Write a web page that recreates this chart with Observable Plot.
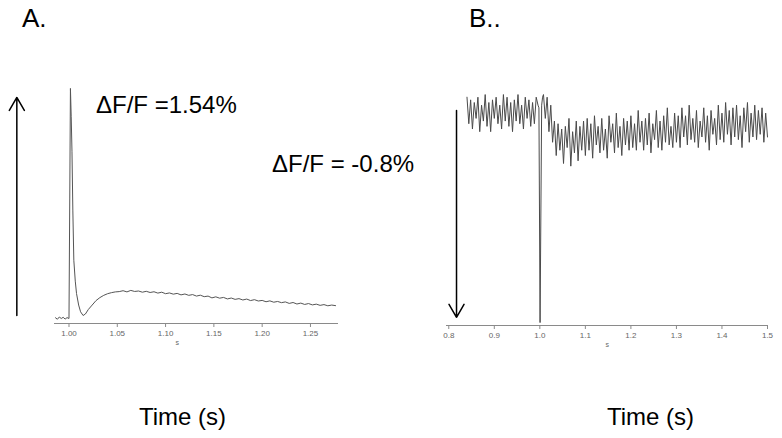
<!DOCTYPE html>
<html><head><meta charset="utf-8">
<script src="https://cdn.jsdelivr.net/npm/d3@7"></script>
<script src="https://cdn.jsdelivr.net/npm/@observablehq/plot@0.6"></script>
<style>
body{margin:0;background:#fff;}
#page{position:relative;width:782px;height:438px;overflow:hidden;font-family:"Liberation Sans",Arial,sans-serif;color:#000;background:#fff;}
.t{position:absolute;white-space:nowrap;line-height:1;}
.panel{position:absolute;top:0;}
</style></head><body>
<div id="page">
  <div class="t" style="left:22px;top:5px;font-size:26px;">A.</div>
  <div class="t" style="left:469px;top:5px;font-size:26px;">B..</div>
  <div class="t" style="left:96px;top:93px;font-size:24px;">ΔF/F =1.54%</div>
  <div class="t" style="left:272px;top:152px;font-size:24px;">ΔF/F = -0.8%</div>
  <div class="t" style="left:139px;top:405px;font-size:24px;">Time (s)</div>
  <div class="t" style="left:607px;top:405px;font-size:24px;">Time (s)</div>
  <div id="pa" class="panel" style="left:0px;"></div>
  <div id="pb" class="panel" style="left:420px;"></div>
</div>
<script>
// ---------- Panel A data (ΔF/F, %) ----------
const aTicks = [1.00, 1.05, 1.10, 1.15, 1.20, 1.25];
const aPreStart = 0.986, aPreStep = 0.002;
const aPreValues = [0.005, -0.005, 0.01, 0.0, 0.008, -0.004, 0.006];
const aRiseTimes = [1.000, 1.0008, 1.0015, 1.0023, 1.0031, 1.004, 1.005, 1.0065, 1.0078, 1.010, 1.012, 1.0146, 1.017, 1.020, 1.024, 1.028, 1.032, 1.036, 1.040, 1.044, 1.048];
const aRiseValues = [0.0, 0.8, 1.54, 1.35, 1.12, 0.72, 0.39, 0.25, 0.167, 0.09, 0.045, 0.02, 0.03, 0.06, 0.09, 0.12, 0.14, 0.155, 0.166, 0.173, 0.178];
const aTailStart = 1.052, aTailStep = 0.004;
const aTailValues = [0.180, 0.186, 0.178, 0.188, 0.181, 0.184, 0.176, 0.182, 0.174, 0.179, 0.170, 0.176, 0.166, 0.171, 0.163, 0.168, 0.158, 0.164, 0.155, 0.160, 0.150, 0.156, 0.146, 0.150, 0.138, 0.145, 0.136, 0.141, 0.131, 0.137, 0.128, 0.133, 0.124, 0.130, 0.120, 0.126, 0.117, 0.121, 0.112, 0.118, 0.109, 0.114, 0.106, 0.111, 0.101, 0.107, 0.097, 0.103, 0.094, 0.100, 0.091, 0.096, 0.088, 0.093, 0.085, 0.090, 0.086];
const aArrow = [{x: 0.946, from: 0.02, to: 1.48}];
const aUnit = [{t: 1.112, label: "s"}];

// ---------- Panel B data (ΔF/F, %) ----------
const bTicks = [0.8, 0.9, 1.0, 1.1, 1.2, 1.3, 1.4, 1.5];
const bPreStart = 0.840, bPreStep = 0.004;
const bPreValues = [0.05, -0.05, 0.04, -0.07, 0.03, -0.03, 0.05, -0.08, 0.02, -0.04, 0.06, -0.06, 0.03, -0.08, 0.04, -0.03, 0.05, -0.05, 0.02, -0.07, 0.06, -0.04, 0.05, -0.06, 0.03, -0.08, 0.04, -0.04, 0.06, -0.05, 0.02, -0.07, 0.05, -0.03, 0.04, -0.06, 0.03, -0.05, 0.05, 0.02];
const bDipTimes = [0.998, 1.0005, 1.004, 1.006];
const bDipValues = [0.01, -0.80, 0.02, 0.05];
const bPostStart = 1.008, bPostStep = 0.004;
const bPostValues = [
  0.06, -0.03, 0.05, -0.08, 0.02, -0.12,
  -0.04, -0.17, -0.05, -0.15, -0.07, -0.20, -0.06, -0.14, -0.03, -0.21, -0.08, -0.16, -0.04, -0.19, -0.06, -0.15, -0.04,
  -0.17, -0.03, -0.15, -0.05, -0.18, -0.02, -0.13, -0.06, -0.16, -0.03, -0.15, -0.07, -0.18, -0.02, -0.12, -0.05, -0.16, -0.01, -0.14, -0.06, -0.17, -0.03, -0.13, -0.04, -0.15,
  -0.02, -0.14, -0.05, -0.15, 0.00, -0.12, -0.04, -0.15, -0.03, -0.13, -0.01, -0.16, -0.05, -0.11, 0.00, -0.14, -0.04, -0.15, -0.02, -0.12, 0.01, -0.13, -0.06, -0.14, -0.01,
  -0.12, -0.02, -0.14, 0.01, -0.10, -0.02, -0.13, 0.02, -0.11, -0.03, -0.12, 0.00, -0.14, -0.04, -0.10, 0.01, -0.12, -0.02, -0.15, 0.00, -0.09, -0.03, -0.13, 0.02, -0.11,
  -0.01, -0.12, 0.03, -0.09, 0.00, -0.13, 0.01, -0.10, 0.02, -0.11, -0.02, -0.14, 0.01, -0.08, 0.03, -0.12, -0.01, -0.10, 0.02, -0.11, 0.00, -0.09, 0.01, -0.12, -0.01, -0.10
];
const bArrow = [{x: 0.817, from: 0.0, to: -0.78}];
const bUnit = [{t: 1.148, label: "s"}];

// ---------- build tables ----------
const aData = [
  ...aPreValues.map((v, i) => ({t: aPreStart + i * aPreStep, v})),
  ...aRiseTimes.map((t, i) => ({t, v: aRiseValues[i]})),
  ...aTailValues.map((v, i) => ({t: aTailStart + i * aTailStep, v}))
];
const bData = [
  ...bPreValues.map((v, i) => ({t: bPreStart + i * bPreStep, v})),
  ...bDipTimes.map((t, i) => ({t, v: bDipValues[i]})),
  ...bPostValues.map((v, i) => ({t: bPostStart + i * bPostStep, v}))
];

const common = {
  height: 360,
  marginTop: 80,
  style: {background: "transparent", overflow: "visible", fontFamily: "'Liberation Sans', Arial, sans-serif"}
};

const plotA = Plot.plot({
  ...common,
  width: 390,
  marginLeft: 54, marginRight: 53, marginBottom: 37,
  x: {domain: [0.985, 1.278]},
  y: {domain: [-0.0335, 1.593], axis: null},
  marks: [
    Plot.frame({anchor: "bottom", stroke: "#8a8a8a"}),
    Plot.axisX({ticks: aTicks, tickFormat: d3.format(".2f"), tickSize: 4, tickPadding: 3, fontSize: 8, stroke: "#8a8a8a", fill: "#666", label: null}),
    Plot.line(aData, {x: "t", y: "v", stroke: "#555", strokeWidth: 1}),
    Plot.arrow(aArrow, {x: "x", y1: "from", y2: "to", stroke: "#000", strokeWidth: 1.5, headLength: 15, headAngle: 60}),
    Plot.text(aUnit, {x: "t", text: "label", frameAnchor: "bottom", dy: 21, fontSize: 7, fill: "#666"})
  ]
});
document.getElementById("pa").append(plotA);

const plotB = Plot.plot({
  ...common,
  width: 362,
  marginLeft: 26, marginRight: 15, marginBottom: 35,
  x: {domain: [0.795, 1.5]},
  y: {domain: [-0.811, 0.113], axis: null},
  marks: [
    Plot.frame({anchor: "bottom", stroke: "#8a8a8a"}),
    Plot.axisX({ticks: bTicks, tickFormat: d3.format(".1f"), tickSize: 4, tickPadding: 3, fontSize: 8, stroke: "#8a8a8a", fill: "#666", label: null}),
    Plot.line(bData, {x: "t", y: "v", stroke: "#4a4a4a", strokeWidth: 1}),
    Plot.arrow(bArrow, {x: "x", y1: "from", y2: "to", stroke: "#000", strokeWidth: 1.5, headLength: 15, headAngle: 60}),
    Plot.text(bUnit, {x: "t", text: "label", frameAnchor: "bottom", dy: 21, fontSize: 7, fill: "#666"})
  ]
});
document.getElementById("pb").append(plotB);
</script>
</body></html>
